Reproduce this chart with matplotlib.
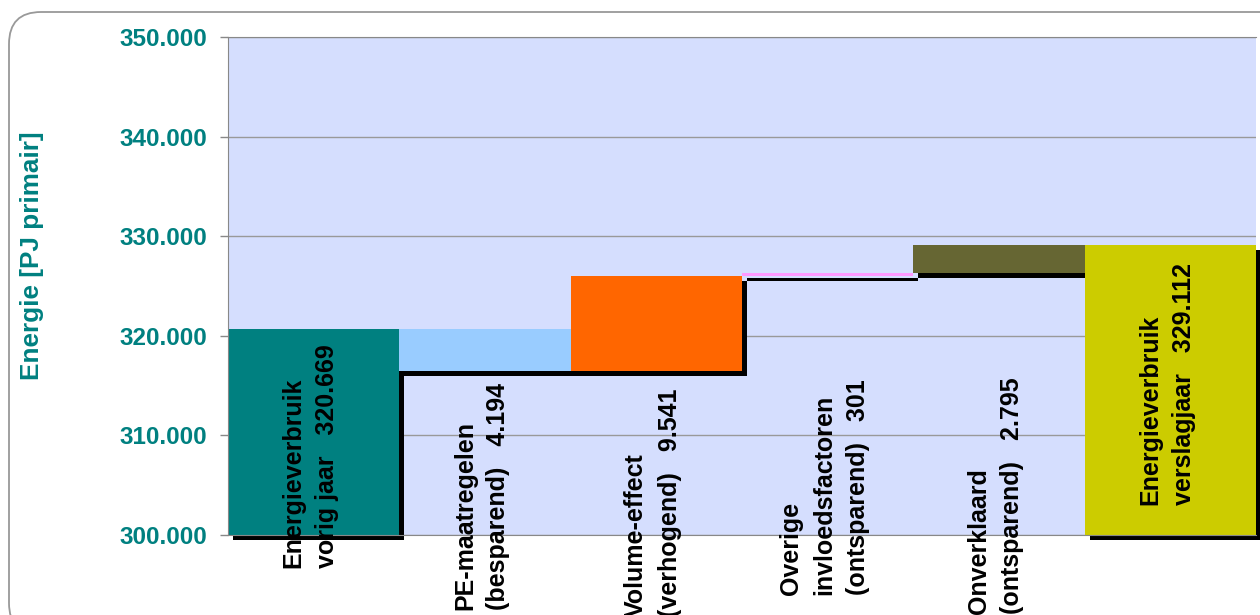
import matplotlib.pyplot as plt
import matplotlib.patheffects as pe
from matplotlib.patches import FancyBboxPatch
from matplotlib.ticker import FuncFormatter
from matplotlib.transforms import blended_transform_factory

# Energy balance, previous year -> reporting year (TJ primary)
categories = [
    "Energieverbruik\nvorig jaar",
    "PE-maatregelen\n(besparend)",
    "Volume-effect\n(verhogend)",
    "Overige\ninvloedsfactoren\n(ontsparend)",
    "Onverklaard\n(ontsparend)",
    "Energieverbruik\nverslagjaar",
]
start_total = 320669
changes = [-4194, 9541, 301, 2795]
end_total = 329112
colors = ["#008080", "#99CCFF", "#FF6600", "#FF99FF", "#666633", "#CCCC00"]

# label anchor heights (axes fraction, bottom of rotated text)
label_y = [-0.066, -0.151, -0.165, -0.121, -0.159, 0.060]

teal = "#008080"
plt.rcParams["font.family"] = ["Liberation Sans", "DejaVu Sans"]
plt.rcParams["font.weight"] = "bold"


def nl(v):
    return f"{v:,.0f}".replace(",", ".")


# build floating bars
bottoms, heights, shown = [300000], [start_total - 300000], [start_total]
level = start_total
for c in changes:
    lo = min(level, level + c)
    bottoms.append(lo)
    heights.append(abs(c))
    shown.append(abs(c))
    level += c
bottoms.append(300000)
heights.append(end_total - 300000)
shown.append(end_total)

fig = plt.figure(figsize=(12.6, 6.15), dpi=100)
ax = fig.add_axes([0.181, 0.130, 0.8159, 0.8098])
ax.set_facecolor("#D5DEFE")

shadow = [pe.withSimplePatchShadow(offset=(3.6, -3.6), shadow_rgbFace="black", alpha=1.0)]
for i in range(len(categories)):
    ax.bar(i, heights[i], bottom=bottoms[i], width=1.0, color=colors[i],
           linewidth=0, clip_on=False, zorder=2, path_effects=shadow)

ax.set_xlim(-0.5, len(categories) - 0.5)
ax.set_ylim(300000, 350000)
ax.set_yticks(range(300000, 350001, 10000))
ax.yaxis.set_major_formatter(FuncFormatter(lambda v, p: nl(v)))
ax.tick_params(axis="y", colors="#888888", labelcolor=teal, labelsize=17.5,
               length=6, width=1, pad=9)
ax.set_xticks([])
ax.yaxis.grid(True, color="#999999", linewidth=1, zorder=0)
ax.set_axisbelow(True)
for side in ["left", "bottom", "top"]:
    ax.spines[side].set_color("#888888")
ax.spines["right"].set_visible(False)

trans = blended_transform_factory(ax.transData, ax.transAxes)
for i, name in enumerate(categories):
    ax.text(i - 0.02, label_y[i], f"{name}   {nl(shown[i])}", rotation=90,
            ha="center", va="bottom", multialignment="left", fontsize=18,
            fontweight="bold", color="black", linespacing=1.5,
            transform=trans, zorder=5, clip_on=False)

fig.text(32 / 1260, 1 - 256 / 615, "Energie [PJ primair]", rotation=90,
         ha="center", va="center", color=teal, fontsize=18.8, fontweight="bold")

# rounded chart frame
frame = FancyBboxPatch((0.09, -0.2), 13.0, 6.23,
                       boxstyle="round,pad=0,rounding_size=0.32",
                       transform=fig.dpi_scale_trans, facecolor="none",
                       edgecolor="#999999", linewidth=1.3)
fig.patches.append(frame)

fig.savefig("out.png", dpi=100)
